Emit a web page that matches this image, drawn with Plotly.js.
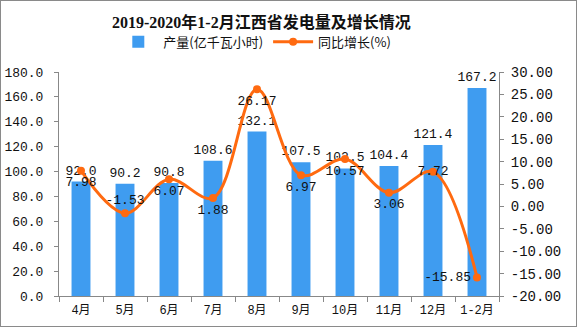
<!DOCTYPE html>
<html><head><meta charset="utf-8">
<script src="https://cdn.plot.ly/plotly-3.0.1.min.js"></script>
<style>
html,body{margin:0;padding:0;background:#fff;}
#wrap{width:575px;height:325px;border:1px solid #8a8a8a;position:relative;overflow:hidden;}
#chart{width:577px;height:327px;position:absolute;left:-1px;top:-1px;}
</style></head>
<body><div id="wrap"><div id="chart"></div></div>
<script>
const categories = ["4月","5月","6月","7月","8月","9月","10月","11月","12月","1-2月"];
const output = [92.0, 90.2, 90.8, 108.6, 132.1, 107.5, 102.5, 104.4, 121.4, 167.2];
const growth = [7.98, -1.53, 6.07, 1.88, 26.17, 6.97, 10.57, 3.06, 7.72, -15.85];
const leftTicks = [0,20,40,60,80,100,120,140,160,180];
const rightTicks = [-20,-15,-10,-5,0,5,10,15,20,25,30];
const growthPos = ["bottom center","top center","bottom center","bottom center","bottom center","bottom center","bottom center","bottom center","middle center","middle left"];

const monoFont = "'Liberation Mono', 'Noto Sans CJK SC', monospace";
const blue = "#3f9cf0", orange = "#ff6a10", axisGray = "#888888";

const traces = [
  {
    type: "bar", name: "产量(亿千瓦小时)", x: categories, y: output,
    marker: {color: blue}, width: 0.43,
    text: output.map(v => v.toFixed(1)), textposition: "outside", constraintext: "none",
    textfont: {family: monoFont, size: 13, color: "#111"},
    cliponaxis: false, hoverinfo: "skip"
  },
  {
    type: "scatter", mode: "lines+markers+text", name: "同比增长(%)",
    x: categories, y: growth, yaxis: "y2",
    line: {color: orange, width: 3, shape: "spline", smoothing: 1},
    marker: {color: orange, size: 8},
    text: growth.map(v => v.toFixed(2)), textposition: growthPos,
    textfont: {family: monoFont, size: 13, color: "#111"},
    cliponaxis: false, hoverinfo: "skip"
  }
];

const layout = {
  width: 577, height: 327,
  margin: {l: 59, r: 78, t: 72, b: 31, pad: 0},
  paper_bgcolor: "#fff", plot_bgcolor: "#fff",
  showlegend: true,
  title: {
    text: "<b>2019-2020年1-2月江西省发电量及增长情况</b>",
    x: 0.453, xanchor: "center", y: 0.93, yanchor: "middle",
    font: {family: "'Liberation Serif','Noto Sans CJK SC', serif", size: 16, color: "#111"}
  },
  legend: {
    orientation: "h", x: 0.445, xanchor: "center", y: 1.135, yanchor: "middle",
    font: {family: "'Noto Sans CJK SC', sans-serif", size: 13, color: "#111"},
    itemwidth: 40, tracegroupgap: 0, bgcolor: "rgba(0,0,0,0)"
  },
  bargap: 0.57,
  xaxis: {
    type: "category", showgrid: false, showline: true, linecolor: axisGray, linewidth: 1,
    ticks: "outside", ticklen: 5, tickcolor: axisGray, tickson: "boundaries",
    tickangle: 0, automargin: false, ticklabelstandoff: 3,
    tickfont: {family: "'Liberation Mono','Noto Sans CJK SC', monospace", size: 12, color: "#111"},
    range: [-0.5, 9.5]
  },
  yaxis: {
    range: [0, 180], tickvals: leftTicks, ticktext: leftTicks.map(v => v.toFixed(1)),
    showgrid: false, zeroline: false, showline: true, linecolor: axisGray, linewidth: 1,
    ticks: "outside", ticklen: 4, tickcolor: axisGray, automargin: false, ticklabelstandoff: 8,
    tickfont: {family: monoFont, size: 13, color: "#111"}
  },
  yaxis2: {
    overlaying: "y", side: "right",
    range: [-20, 30], tickvals: rightTicks, ticktext: rightTicks.map(v => v.toFixed(2)),
    showgrid: false, zeroline: false, showline: true, linecolor: axisGray, linewidth: 1,
    ticks: "outside", ticklen: 4, tickcolor: axisGray, automargin: false, ticklabelstandoff: 4,
    tickfont: {family: monoFont, size: 14, color: "#111"}
  }
};

Plotly.newPlot("chart", traces, layout, {displayModeBar: false, staticPlot: true});
</script></body></html>
